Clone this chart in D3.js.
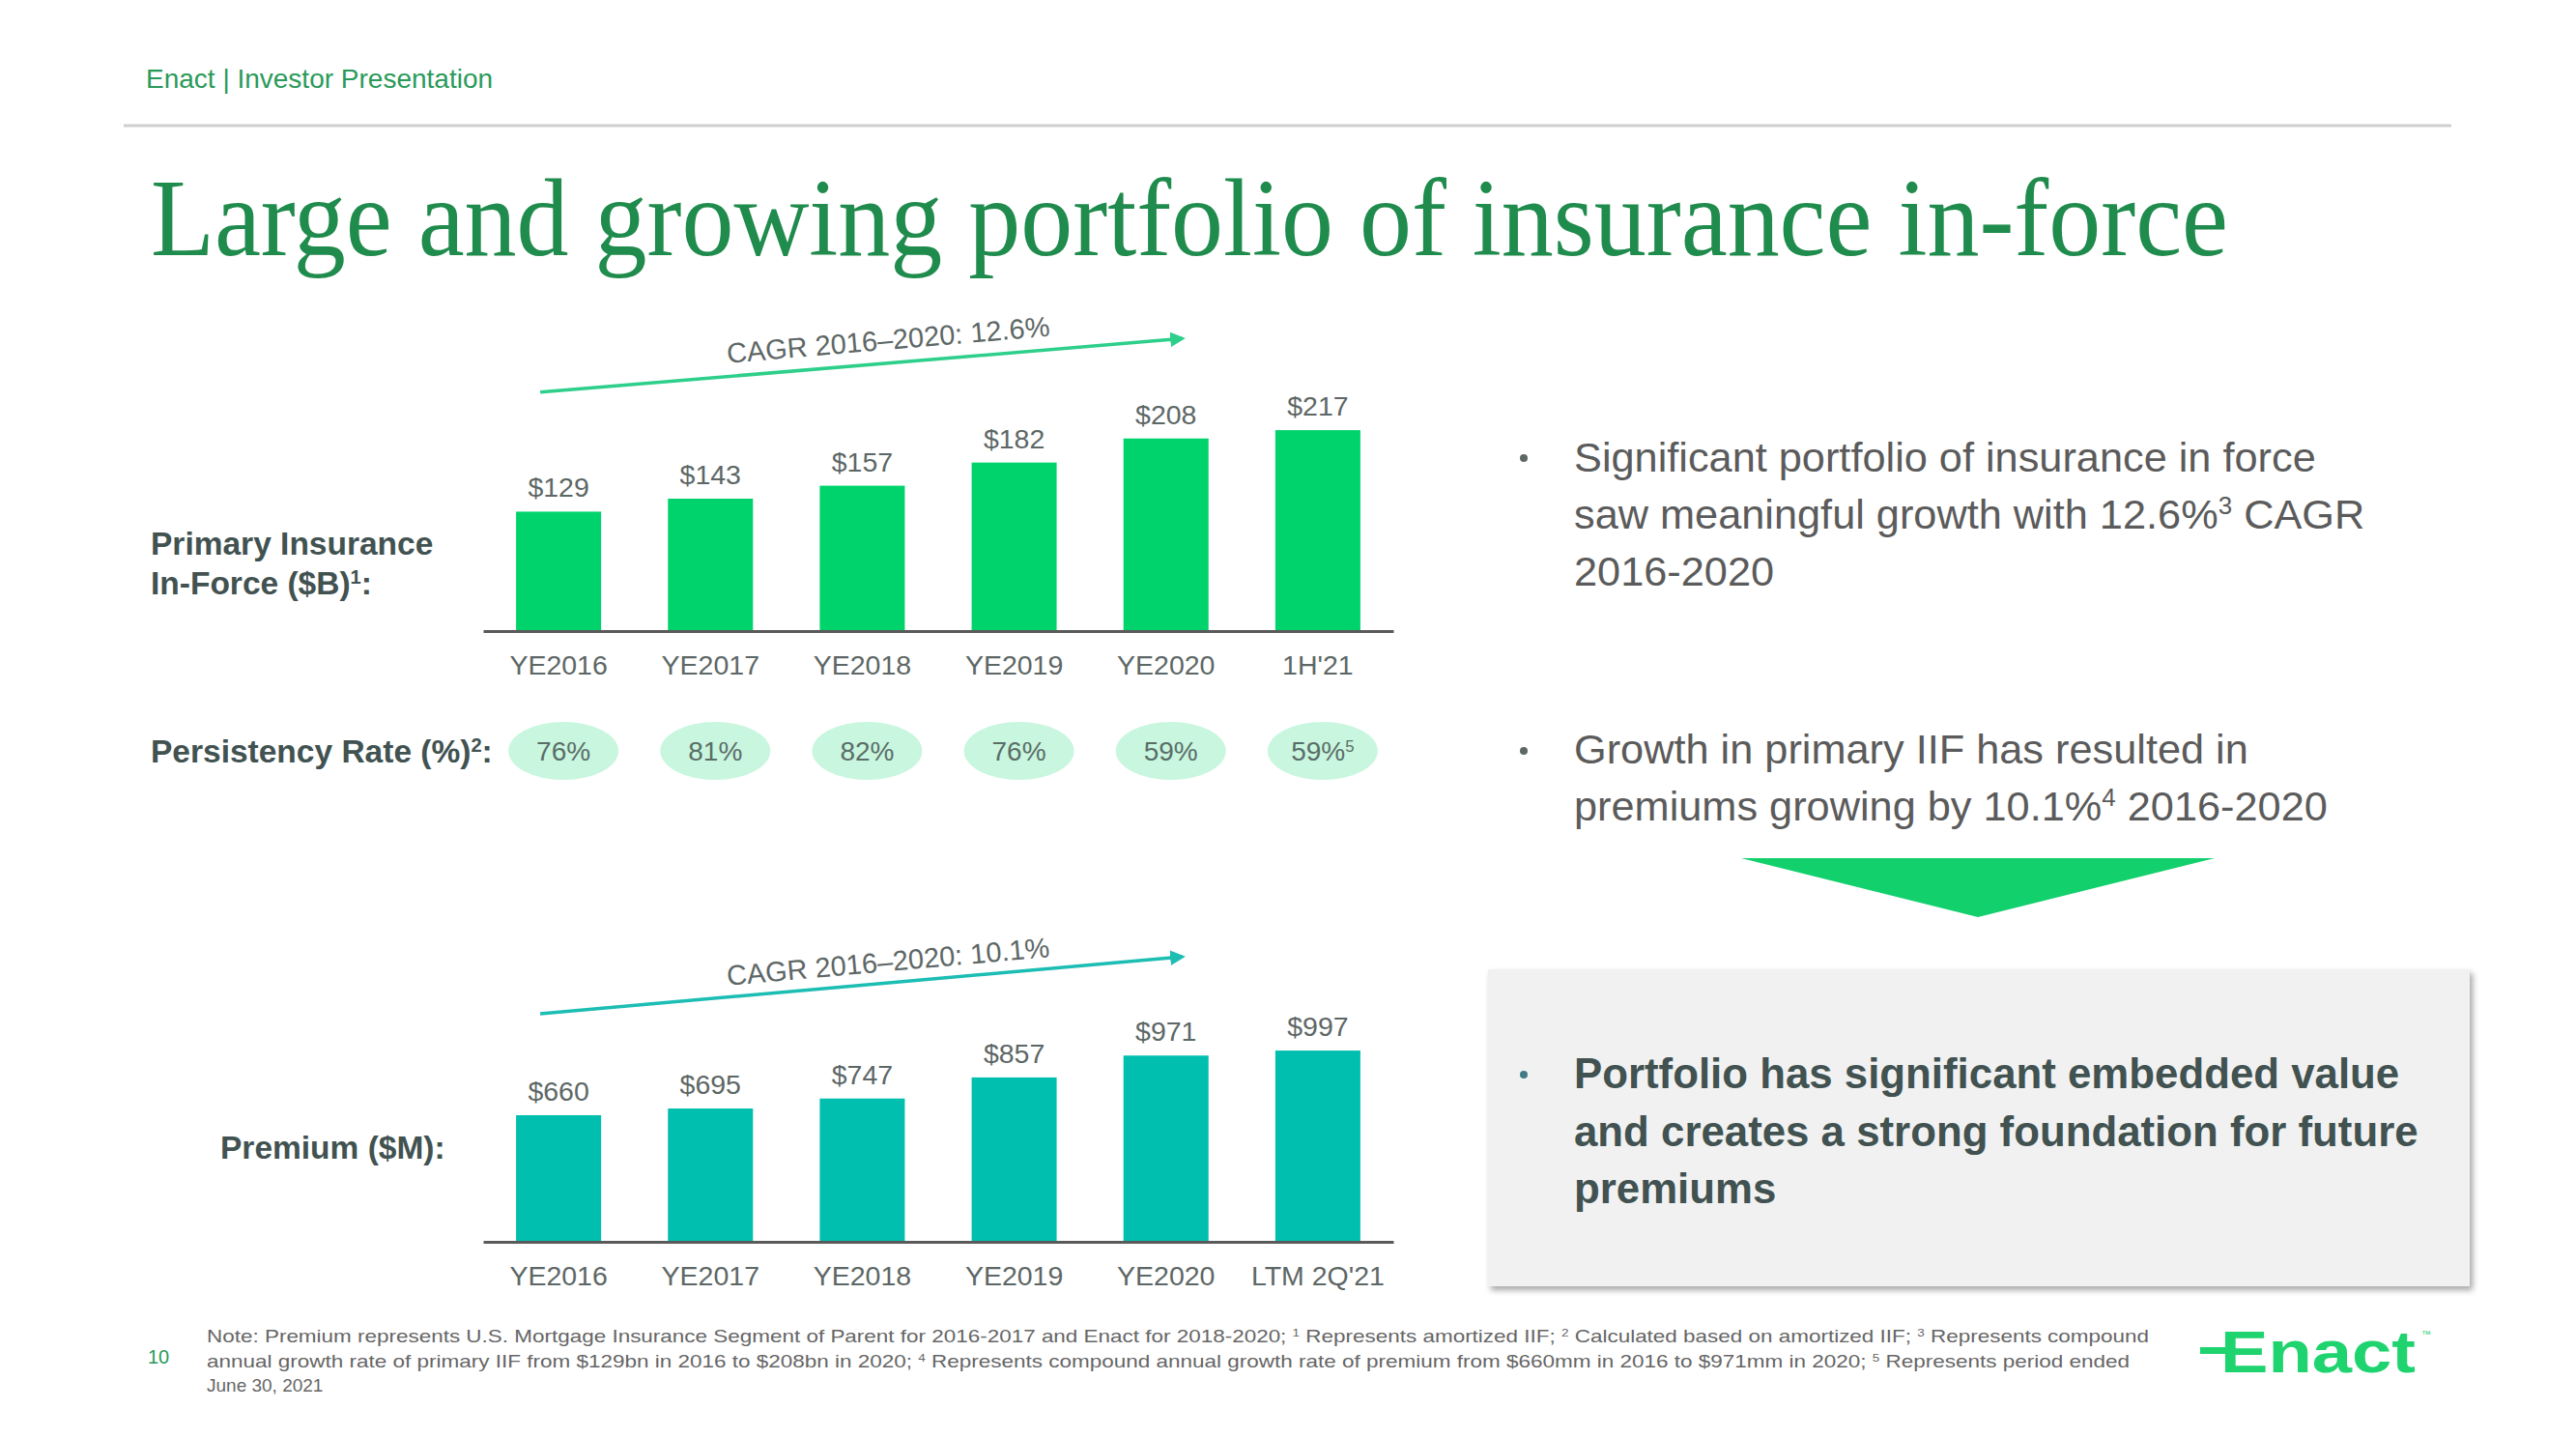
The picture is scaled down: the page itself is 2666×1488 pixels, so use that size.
<!DOCTYPE html>
<html><head><meta charset="utf-8">
<script src="https://cdn.jsdelivr.net/npm/d3@7/dist/d3.min.js"></script>
<style>html,body{margin:0;padding:0;background:#fff;}svg{display:block;font-family:"Liberation Sans",Arial,sans-serif;}</style>
</head><body>
<script>
// ---------- data ----------
const iifCategories = ["YE2016","YE2017","YE2018","YE2019","YE2020","1H'21"];
const iifValues = [129,143,157,182,208,217];
const iifLabels = ["$129","$143","$157","$182","$208","$217"];
const persistencyValues = [76,81,82,76,59,59];
const persistencyNotes = ["","","","","","5"];
const premiumCategories = ["YE2016","YE2017","YE2018","YE2019","YE2020","LTM 2Q'21"];
const premiumValues = [660,695,747,857,971,997];
const premiumLabels = ["$660","$695","$747","$857","$971","$997"];
const iifCagr = "CAGR 2016–2020: 12.6%";
const premiumCagr = "CAGR 2016–2020: 10.1%";

const W = 2666, H = 1488;
const GREEN = "#00d36c", TEAL = "#00bfae", GRAY = "#5d6766", DARK = "#415251";

const svg = d3.select("body").append("svg").attr("width", W).attr("height", H);
svg.append("rect").attr("width", W).attr("height", H).attr("fill", "#fff");

const defs = svg.append("defs");
const f = defs.append("filter").attr("id","shadow").attr("x","-5%").attr("y","-5%").attr("width","112%").attr("height","115%");
f.append("feDropShadow").attr("dx",3).attr("dy",4).attr("stdDeviation",3).attr("flood-color","#000").attr("flood-opacity",0.35);
function marker(id, color){
  defs.append("marker").attr("id", id).attr("viewBox","0 0 10 10").attr("refX",8).attr("refY",5)
    .attr("markerWidth",4.5).attr("markerHeight",4.5).attr("orient","auto")
    .append("path").attr("d","M0,0 L10,5 L0,10 z").attr("fill", color);
}
marker("arrG", "#2dcf8a");
marker("arrT", "#1cbdb3");

// rich text helper: segments [text, isSup]
function rich(g, x, y, segs, opts){
  const t = g.append("text").attr("x", x).attr("y", y)
    .attr("font-size", opts.size).attr("fill", opts.fill)
    .attr("font-weight", opts.weight || "normal")
    .attr("text-anchor", opts.anchor || "start");
  if (opts.len) t.attr("textLength", opts.len).attr("lengthAdjust","spacingAndGlyphs");
  segs.forEach(s => {
    const ts = t.append("tspan").text(s[0]);
    if (s[1]) ts.attr("font-size", opts.size*0.6).attr("baseline-shift","super");
  });
  return t;
}

// ---------- header ----------
svg.append("text").attr("x",151).attr("y",91).attr("font-size",28).attr("fill","#2a9a5a")
  .text("Enact | Investor Presentation");
svg.append("line").attr("x1",128).attr("x2",2537).attr("y1",130).attr("y2",130)
  .attr("stroke","#cfcfcf").attr("stroke-width",3);
svg.append("text").attr("x",156).attr("y",264).attr("font-size",114)
  .attr("font-family","'Liberation Serif','DejaVu Serif',serif").attr("fill","#1f8b4c")
  .attr("textLength",2150).attr("lengthAdjust","spacingAndGlyphs")
  .text("Large and growing portfolio of insurance in-force");

// ---------- shared x scale ----------
function xScale(cats){
  return d3.scaleBand().domain(cats).range([500,1442]).paddingInner(0.44).paddingOuter(0.217);
}

function barChart(cfg){
  const x = xScale(cfg.cats);
  const y = d3.scaleLinear().domain([0, cfg.max]).range([cfg.base, cfg.base - cfg.max*cfg.ppu]);
  const g = svg.append("g");
  g.selectAll("rect.bar").data(cfg.values).join("rect").attr("class","bar")
    .attr("x",(d,i)=>x(cfg.cats[i])).attr("width",x.bandwidth())
    .attr("y",d=>y(d)).attr("height",d=>cfg.base - y(d)).attr("fill",cfg.color);
  g.selectAll("text.val").data(cfg.values).join("text").attr("class","val")
    .attr("x",(d,i)=>x(cfg.cats[i])+x.bandwidth()/2).attr("y",d=>y(d)-15)
    .attr("text-anchor","middle").attr("font-size",28.5).attr("fill",GRAY)
    .text((d,i)=>cfg.labels[i]);
  // axis
  const axis = d3.axisBottom(x).tickSize(0).tickPadding(0);
  const ag = g.append("g").attr("transform",`translate(0,${cfg.base})`).call(axis);
  ag.select(".domain").attr("stroke","#5a5a5a").attr("stroke-width",3);
  ag.selectAll(".tick text").attr("font-size",28.5).attr("fill",GRAY)
    .attr("font-family","'Liberation Sans',Arial,sans-serif").attr("dy",0).attr("y",cfg.labelDy);
  // CAGR arrow
  const x0 = x(cfg.cats[0]) + x.bandwidth()/2 - 19;
  const x1 = x(cfg.cats[4]) + x.bandwidth()/2 + 17;
  const y0 = y(cfg.arrowFrom), y1 = y(cfg.arrowTo);
  g.append("line").attr("x1",x0).attr("y1",y0).attr("x2",x1).attr("y2",y1)
    .attr("stroke",cfg.arrowColor).attr("stroke-width",3.5).attr("marker-end",`url(#${cfg.marker})`);
  const ang = Math.atan2(y1-y0, x1-x0)*180/Math.PI;
  const tx = 920, ty = y0 + (y1-y0)*(tx-x0)/(x1-x0) - cfg.textOff;
  g.append("text").attr("transform",`translate(${tx},${ty}) rotate(${ang})`)
    .attr("text-anchor","middle").attr("font-size",29).attr("fill",GRAY).text(cfg.cagr);
  return {x, y};
}

const topChart = barChart({cats: iifCategories, values: iifValues, labels: iifLabels, max: 250, ppu: 0.958,
  base: 653, color: GREEN, labelDy: 45, arrowFrom: 258, arrowTo: 316, arrowColor: "#2dcf8a",
  marker: "arrG", cagr: iifCagr, textOff: 14});

// persistency ellipses
const px = xScale(iifCategories);
const pg = svg.append("g");
pg.selectAll("ellipse").data(persistencyValues).join("ellipse")
  .attr("cx",(d,i)=>px(iifCategories[i])+px.bandwidth()/2+5).attr("cy",777)
  .attr("rx",57).attr("ry",30).attr("fill","#c9f6df");
persistencyValues.forEach((d,i)=>{
  const segs = [[d+"%",false]];
  if (persistencyNotes[i]) segs.push([persistencyNotes[i], true]);
  rich(pg, px(iifCategories[i])+px.bandwidth()/2+5, 787, segs, {size:28, fill:"#5a6e68", anchor:"middle"});
});

const bottomChart = barChart({cats: premiumCategories, values: premiumValues, labels: premiumLabels, max: 1200, ppu: 0.1985,
  base: 1285, color: TEAL, labelDy: 45, arrowFrom: 1189, arrowTo: 1486, arrowColor: "#1cbdb3",
  marker: "arrT", cagr: premiumCagr, textOff: 12});

// row labels
rich(svg, 156, 574, [["Primary Insurance",false]], {size:33.5, fill:DARK, weight:"bold"});
rich(svg, 156, 615, [["In-Force ($B)",false],["1",true],[":",false]], {size:33.5, fill:DARK, weight:"bold"});
rich(svg, 156, 789, [["Persistency Rate (%)",false],["2",true],[":",false]], {size:33.5, fill:DARK, weight:"bold"});
rich(svg, 228, 1199, [["Premium ($M):",false]], {size:33.5, fill:DARK, weight:"bold"});

// ---------- right side ----------
const rg = svg.append("g");
function bullet(y, color){ rg.append("circle").attr("cx",1577).attr("cy",y).attr("r",4).attr("fill",color); }
bullet(474, "#5d6766");
rich(rg,1629,488,[["Significant portfolio of insurance in force",false]],{size:43.3, fill:"#5b5b5b"});
rich(rg,1629,547,[["saw meaningful growth with 12.6%",false],["3",true],[" CAGR",false]],{size:43.3, fill:"#5b5b5b"});
rich(rg,1629,606,[["2016-2020",false]],{size:43.3, fill:"#5b5b5b"});
bullet(777, "#5d6766");
rich(rg,1629,790,[["Growth in primary IIF has resulted in",false]],{size:43.3, fill:"#5b5b5b"});
rich(rg,1629,849,[["premiums growing by 10.1%",false],["4",true],[" 2016-2020",false]],{size:43.3, fill:"#5b5b5b"});

rg.append("path").attr("d","M1802,888 L2292,888 L2047,949 Z").attr("fill","#12d06c");

rg.append("rect").attr("x",1540).attr("y",1003).attr("width",1016).attr("height",328)
  .attr("fill","#f1f1f1").attr("filter","url(#shadow)");
bullet(1112, "#3f7a86");
rich(rg,1629,1126,[["Portfolio has significant embedded value",false]],{size:43.8, fill:DARK, weight:"bold"});
rich(rg,1629,1186,[["and creates a strong foundation for future",false]],{size:43.8, fill:DARK, weight:"bold"});
rich(rg,1629,1245,[["premiums",false]],{size:43.8, fill:DARK, weight:"bold"});

// ---------- footer ----------
svg.append("text").attr("x",153).attr("y",1411).attr("font-size",20).attr("fill","#2a9a5a").text("10");
const fg = svg.append("g");
rich(fg,214,1389,[["Note: Premium represents U.S. Mortgage Insurance Segment of Parent for 2016-2017 and Enact for 2018-2020; ",false],["1",true],[" Represents amortized IIF; ",false],["2",true],[" Calculated based on amortized IIF; ",false],["3",true],[" Represents compound",false]],{size:19, fill:"#666", len:2010});
rich(fg,214,1415,[["annual growth rate of primary IIF from $129bn in 2016 to $208bn in 2020; ",false],["4",true],[" Represents compound annual growth rate of premium from $660mm in 2016 to $971mm in 2020; ",false],["5",true],[" Represents period ended",false]],{size:19, fill:"#666", len:1990});
rich(fg,214,1440,[["June 30, 2021",false]],{size:19, fill:"#666"});

// logo
const lg = svg.append("g");
lg.append("rect").attr("x",2277).attr("y",1394).attr("width",32).attr("height",7).attr("fill","#1fd36f");
lg.append("text").attr("x",2298).attr("y",1420).attr("font-size",62).attr("font-weight","bold")
  .attr("fill","#1fd36f").attr("font-family","'Liberation Sans',Arial,sans-serif")
  .attr("textLength",202).attr("lengthAdjust","spacingAndGlyphs").text("Enact");
lg.append("text").attr("x",2506).attr("y",1384).attr("font-size",10).attr("fill","#1fd36f").text("™");
</script>
</body></html>
